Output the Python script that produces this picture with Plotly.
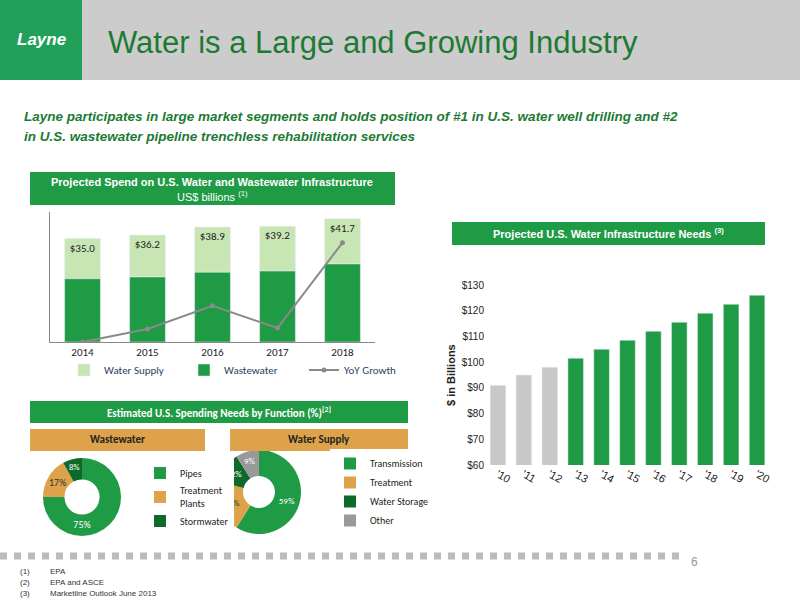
import plotly.graph_objects as go

# left chart: projected spend (US$ billions)
spend_years = ["2014", "2015", "2016", "2017", "2018"]
spend_totals = [35.0, 36.2, 38.9, 39.2, 41.7]
wastewater = [21.4, 22.0, 23.6, 24.0, 26.4]
water_supply = [t - w for t, w in zip(spend_totals, wastewater)]
yoy_growth = [0.0, 1.4, 3.9, 1.5, 10.7]
spend_labels = ["$35.0", "$36.2", "$38.9", "$39.2", "$41.7"]

# right chart: water infrastructure needs
need_years = ["'10", "'11", "'12", "'13", "'14", "'15", "'16", "'17", "'18", "'19", "'20"]
need_values = [91, 95, 98, 101.5, 105, 108.5, 112, 115.5, 119, 122.5, 126]
need_actual = [True, True, True] + [False] * 8

# pies
ww_labels = ["Pipes", "Treatment<br>Plants", "Stormwater"]
ww_values = [75, 17, 8]
ws_labels = ["Transmission", "Treatment", "Water Storage", "Other"]
ws_values = [59, 20, 12, 9]

GREEN = "#1f9a45"
DARK = "#0d6a2a"
LIGHT = "#c8e6b4"
ORANGE = "#dea24a"
GREY = "#999999"
TITLE_GREEN = "#1c7a34"
FONT = "Liberation Sans"
CAL = "Carlito, Liberation Sans"


def px(x):
    return x / 800


def py(y):
    return 1 - y / 600


fig = go.Figure()

fig.add_trace(go.Bar(x=spend_years, y=water_supply, base=wastewater, name="Water Supply",
                     marker_color=LIGHT, xaxis="x", yaxis="y", legend="legend", width=0.55,
                     text=spend_labels, textposition="inside", insidetextanchor="end",
                     textfont=dict(color="#222", size=11, family=CAL)))
fig.add_trace(go.Bar(x=spend_years, y=wastewater, name="Wastewater", marker_color=GREEN,
                     xaxis="x", yaxis="y", legend="legend", width=0.55))
fig.add_trace(go.Scatter(x=spend_years, y=yoy_growth, name="YoY Growth", mode="lines+markers",
                         line=dict(color="#8a8a8a", width=2), marker=dict(size=5),
                         xaxis="x", yaxis="y2", legend="legend"))

fig.add_trace(go.Bar(x=need_years, y=need_values, showlegend=False,
                     marker_color=["#c8c8c8" if a else GREEN for a in need_actual],
                     xaxis="x3", yaxis="y3", width=0.6))

fig.add_trace(go.Pie(labels=ww_labels, values=ww_values, hole=0.45, sort=False,
                     direction="clockwise", rotation=0, legend="legend2",
                     marker=dict(colors=[GREEN, ORANGE, DARK]),
                     texttemplate="%{value}%", textposition="inside", insidetextorientation="horizontal",
                     textfont=dict(size=10, color=["white", "#333", "white"], family=CAL),
                     domain=dict(x=[px(43), px(121)], y=[py(536), py(458)])))
fig.add_trace(go.Pie(labels=ws_labels, values=ws_values, hole=0.38, sort=False,
                     direction="clockwise", rotation=0, legend="legend3",
                     marker=dict(colors=[GREEN, ORANGE, DARK, GREY]),
                     texttemplate="%{value}%", textposition="inside", insidetextorientation="auto",
                     textfont=dict(size=9, color=["white", "#333", "white", "white"], family=CAL),
                     domain=dict(x=[px(217), px(301)], y=[py(534), py(450)])))

axis_font = dict(size=11, color="#222", family=CAL)
fig.update_layout(
    width=800, height=600, autosize=False, margin=dict(l=0, r=0, t=0, b=0, pad=0),
    paper_bgcolor="white", plot_bgcolor="rgba(0,0,0,0)", barmode="overlay",
    font=dict(family=FONT),
    xaxis=dict(domain=[px(50), px(375)], anchor="y", showline=True, linecolor="#888",
               tickfont=axis_font, ticks="", automargin=False),
    yaxis=dict(domain=[py(342), py(212)], anchor="x", range=[0, 44], showline=True, linecolor="#888",
               showticklabels=False, showgrid=False, zeroline=False, automargin=False),
    yaxis2=dict(overlaying="y", range=[0, 14], visible=False),
    xaxis3=dict(domain=[px(485), px(770)], anchor="y3", tickangle=30, automargin=False,
                tickfont=dict(size=11, color="#222", family=FONT), ticks=""),
    yaxis3=dict(domain=[py(465), py(285)], anchor="x3", range=[60, 130], dtick=10, tickprefix="$",
                showgrid=False, zeroline=False, tickfont=dict(size=10, color="#222"), automargin=False),
    legend=dict(orientation="h", x=px(64), y=py(370), xanchor="left", yanchor="middle",
                font=dict(size=11, family=CAL), entrywidth=75, itemwidth=30),
    legend2=dict(x=px(140), y=py(497), yanchor="middle", font=dict(size=10, color="#222", family=CAL)),
    legend3=dict(x=px(330), y=py(492), yanchor="middle", font=dict(size=10, color="#222", family=CAL)),
)

shapes = [
    dict(type="rect", x0=0, x1=1, y0=py(80), y1=1, fillcolor="#cccccc", line_width=0),
    dict(type="rect", x0=0, x1=px(82), y0=py(80), y1=1, fillcolor="#21a05a", line_width=0),
    dict(type="rect", x0=px(30), x1=px(395), y0=py(205), y1=py(172), fillcolor=GREEN, line_width=0),
    dict(type="rect", x0=px(452), x1=px(765), y0=py(245), y1=py(222), fillcolor=GREEN, line_width=0),
    dict(type="rect", x0=px(30), x1=px(408), y0=py(423), y1=py(401), fillcolor=GREEN, line_width=0),
    dict(type="rect", x0=px(30), x1=px(205), y0=py(451), y1=py(429), fillcolor=ORANGE, line_width=0),
    dict(type="rect", x0=px(230), x1=px(408), y0=py(451), y1=py(429), fillcolor=ORANGE, line_width=0),
    dict(type="line", x0=0, x1=px(680), y0=py(556), y1=py(556),
         line=dict(color="#bbbbbb", width=7, dash="dot")),
]
for s in shapes:
    s.update(xref="paper", yref="paper", layer="above")

ann = [
    dict(x=px(41), y=py(40), text="<i><b>Layne</b></i>", font=dict(size=17, color="white")),
    dict(x=px(106), y=py(42), text="Water is a Large and Growing Industry", xanchor="left",
         font=dict(size=31, color=TITLE_GREEN)),
    dict(x=px(22), y=py(116), xanchor="left",
         text="<b><i>Layne participates in large market segments and holds position of #1 in U.S. water well drilling and #2</i></b>",
         font=dict(size=13.5, color=TITLE_GREEN)),
    dict(x=px(22), y=py(136), xanchor="left",
         text="<b><i>in U.S. wastewater pipeline trenchless rehabilitation services</i></b>",
         font=dict(size=13.5, color=TITLE_GREEN)),
    dict(x=px(212), y=py(182), text="<b>Projected Spend on U.S. Water and Wastewater Infrastructure</b>",
         font=dict(size=11, color="white")),
    dict(x=px(212), y=py(196), text="US$ billions <sup>(1)</sup>", font=dict(size=11, color="white")),
    dict(x=px(608), y=py(233), text="<b>Projected U.S. Water Infrastructure Needs <sup>(3)</sup></b>",
         font=dict(size=11, color="white")),
    dict(x=px(219), y=py(412), text="<b>Estimated U.S. Spending Needs by Function (%)<sup>[2]</sup></b>",
         font=dict(size=11, color="white", family=CAL)),
    dict(x=px(117), y=py(440), text="<b>Wastewater</b>", font=dict(size=11, color="#222", family=CAL)),
    dict(x=px(319), y=py(440), text="<b>Water Supply</b>", font=dict(size=11, color="#222", family=CAL)),
    dict(x=px(694), y=py(562), text="6", font=dict(size=12, color="#999")),
    dict(x=px(451), y=py(375), text="<b>$ in Billions</b>", textangle=-90,
         font=dict(size=11, color="#222")),
]
for a in ann:
    a.setdefault("xanchor", "center")
for i, t in enumerate(["EPA", "EPA and ASCE", "Marketline Outlook June 2013"]):
    ann.append(dict(x=px(18), y=py(571 + 11 * i), xanchor="left", text="(%d)" % (i + 1),
                    font=dict(size=8, color="#333")))
    ann.append(dict(x=px(48), y=py(571 + 11 * i), xanchor="left", text=t,
                    font=dict(size=8, color="#333")))
for a in ann:
    a.update(xref="paper", yref="paper", showarrow=False, yanchor="middle")

fig.update_layout(shapes=shapes, annotations=ann)
fig.write_html("out.html",
               post_script="document.body.style.margin='0';document.documentElement.style.overflow='hidden';",
               config={"displayModeBar": False})
